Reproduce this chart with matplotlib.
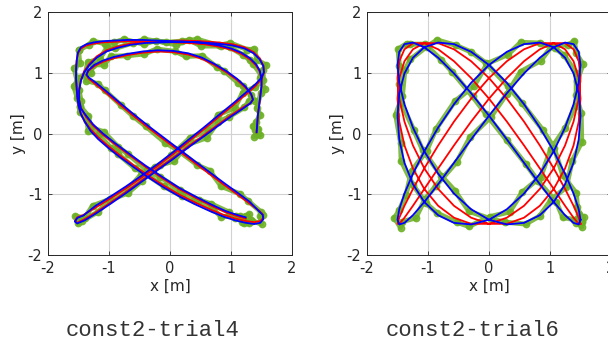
import matplotlib
matplotlib.use("Agg")
import matplotlib.pyplot as plt

plt.rcParams['axes.unicode_minus'] = False

# ---- const2-trial4 (left) ----
# red = reference, blue = estimate (same x samples), green = measurements
xl = [1.42, 1.43, 1.44, 1.46, 1.48, 1.50, 1.50, 1.47, 1.41, 1.31, 1.17, 1.00, 0.80, 0.55, 0.30, 0.05,
      -0.20, -0.45, -0.70, -0.92, -1.10, -1.25, -1.37, -1.46, -1.51, -1.53, -1.54, -1.54, -1.53, -1.52,
      -1.50, -1.46, -1.40,
      -1.30, -1.18, -1.02, -0.82, -0.60, -0.36, -0.10, 0.16, 0.42, 0.66, 0.88, 1.07, 1.24, 1.38, 1.48,
      1.53, 1.52, 1.46,
      1.30, 1.10, 0.88, 0.64, 0.40, 0.15, -0.10, -0.35, -0.60, -0.84, -1.05, -1.22, -1.33, -1.37,
      -1.34, -1.24, -1.10, -0.92, -0.70, -0.45, -0.20, 0.05, 0.30, 0.52, 0.72, 0.92, 1.10, 1.24, 1.33,
      1.36, 1.32,
      1.18, 1.00, 0.78, 0.55, 0.30, 0.05, -0.20, -0.46, -0.72, -0.98, -1.22, -1.40, -1.52, -1.56, -1.52,
      -1.42,
      -1.22, -0.98, -0.72, -0.46, -0.20, 0.06, 0.32, 0.58, 0.82, 1.04, 1.24, 1.40, 1.50, 1.54,
      1.53, 1.47, 1.37, 1.22, 1.02, 0.78, 0.50, 0.20, -0.10, -0.40, -0.65, -0.86, -1.04, -1.20, -1.32,
      -1.41, -1.46, -1.49, -1.49, -1.46,
      -1.38, -1.26, -1.10, -0.90, -0.66, -0.40, -0.12, 0.16, 0.44, 0.70, 0.92, 1.10, 1.24]
yl_ref = [0.02, 0.15, 0.30, 0.45, 0.62, 0.78, 0.90, 1.02, 1.12, 1.22, 1.31, 1.38, 1.43, 1.47, 1.49, 1.50,
          1.51, 1.52, 1.52, 1.51, 1.50, 1.48, 1.45, 1.40, 1.32, 1.20, 1.05, 0.90, 0.75, 0.60, 0.46, 0.32,
          0.20,
          0.07, -0.06, -0.20, -0.36, -0.52, -0.69, -0.86, -1.01, -1.14, -1.25, -1.34, -1.40, -1.44, -1.46,
          -1.44, -1.39, -1.33, -1.27,
          -1.15, -1.00, -0.84, -0.66, -0.48, -0.29, -0.10, 0.09, 0.29, 0.49, 0.67, 0.81, 0.90, 0.96,
          1.03, 1.11, 1.18, 1.24, 1.29, 1.33, 1.35, 1.34, 1.30, 1.23, 1.13, 1.01, 0.88, 0.75, 0.64, 0.56,
          0.50,
          0.42, 0.30, 0.14, -0.03, -0.21, -0.40, -0.58, -0.77, -0.96, -1.14, -1.30, -1.41, -1.47, -1.44,
          -1.38, -1.34,
          -1.22, -1.07, -0.90, -0.72, -0.53, -0.33, -0.12, 0.09, 0.29, 0.47, 0.64, 0.78, 0.90, 1.00,
          1.12, 1.24, 1.34, 1.42, 1.47, 1.50, 1.52, 1.53, 1.52, 1.51, 1.48, 1.43, 1.37, 1.27, 1.15, 1.02,
          0.88, 0.72, 0.56, 0.42,
          0.28, 0.13, -0.02, -0.18, -0.36, -0.55, -0.74, -0.92, -1.07, -1.20, -1.30, -1.36, -1.40]
yl_est = [0.02, 0.15, 0.30, 0.45, 0.62, 0.78, 0.91, 1.04, 1.14, 1.24, 1.33, 1.40, 1.45, 1.49, 1.51, 1.52,
          1.53, 1.54, 1.54, 1.53, 1.52, 1.50, 1.47, 1.42, 1.33, 1.20, 1.05, 0.90, 0.75, 0.60, 0.46, 0.32,
          0.20,
          0.04, -0.09, -0.23, -0.39, -0.55, -0.72, -0.89, -1.04, -1.17, -1.28, -1.37, -1.43, -1.47, -1.49,
          -1.47, -1.41, -1.34, -1.28,
          -1.12, -0.97, -0.81, -0.63, -0.45, -0.26, -0.07, 0.12, 0.32, 0.52, 0.70, 0.84, 0.92, 0.97,
          1.04, 1.13, 1.20, 1.26, 1.31, 1.35, 1.37, 1.36, 1.32, 1.25, 1.15, 1.03, 0.90, 0.77, 0.65, 0.56,
          0.50,
          0.40, 0.28, 0.12, -0.05, -0.23, -0.42, -0.60, -0.79, -0.98, -1.16, -1.32, -1.43, -1.48, -1.45,
          -1.39, -1.35,
          -1.19, -1.04, -0.87, -0.69, -0.50, -0.30, -0.09, 0.12, 0.32, 0.50, 0.67, 0.81, 0.92, 1.01,
          1.11, 1.22, 1.32, 1.40, 1.45, 1.48, 1.50, 1.51, 1.50, 1.49, 1.46, 1.41, 1.35, 1.25, 1.13, 1.00,
          0.87, 0.71, 0.55, 0.41,
          0.30, 0.15, 0.00, -0.16, -0.34, -0.53, -0.72, -0.90, -1.05, -1.18, -1.28, -1.34, -1.38]
xl_meas = [1.40, 1.36, 1.48, 1.38, 1.45,
           1.45, 1.41, 1.48, 1.42, 1.49, 1.55, 1.47, 1.49, 1.36, 1.31, 1.20, 0.98, 0.84, 0.51, 0.31, 0.10,
           -0.23, -0.43, -0.75, -0.92, -1.07, -1.27, -1.33, -1.50, -1.50, -1.48, -1.57, -1.52, -1.58,
           -1.52, -1.47, -1.48, -1.36,
           -1.34, -1.17, -0.97, -0.85, -0.58, -0.41, -0.10, 0.19, 0.40, 0.70, 0.84, 1.08, 1.29, 1.35,
           1.50, 1.48, 1.52, 1.49,
           1.28, 1.14, 0.84, 0.65, 0.45, 0.12, -0.08, -0.40, -0.60, -0.81, -1.07, -1.18, -1.37, -1.36,
           -1.29, -1.27, -1.08, -0.97, -0.70, -0.42, -0.22, 0.09, 0.26, 0.53, 0.77, 0.89, 1.12, 1.19,
           1.33, 1.39, 1.30,
           1.22, 0.96, 0.79, 0.60, 0.27, 0.07, -0.25, -0.46, -0.69, -1.00, -1.18, -1.44, -1.51, -1.51,
           -1.55, -1.40,
           -1.27, -0.98, -0.69, -0.48, -0.16, 0.02, 0.33, 0.63, 0.79, 1.06, 1.19, 1.40, 1.53, 1.52,
           1.57, 1.43, 1.38, 1.27, 0.99, 0.80, 0.45, 0.20, -0.07, -0.42, -0.61, -0.90, -1.03, -1.15,
           -1.35, -1.39, -1.51, -1.49, -1.46, -1.48,
           -1.34, -1.30, -1.09, -0.85, -0.69, -0.38, -0.17, 0.16, 0.47, 0.68, 0.96, 1.06, 1.25,
           1.18, 1.30, 1.22, 1.33, 1.15, 1.27]
yl_meas = [0.05, 0.12, -0.02, -0.05, 0.08,
           0.00, 0.19, 0.31, 0.42, 0.67, 0.74, 0.92, 0.97, 1.15, 1.21, 1.29, 1.42, 1.44, 1.44, 1.54, 1.46,
           1.53, 1.47, 1.55, 1.50, 1.48, 1.52, 1.46, 1.37, 1.37, 1.16, 1.07, 0.85, 0.78, 0.59, 0.44,
           0.36, 0.21,
           0.04, -0.01, -0.24, -0.34, -0.57, -0.66, -0.87, -1.03, -1.10, -1.24, -1.37, -1.35, -1.48,
           -1.44, -1.49, -1.36, -1.34, -1.29,
           -1.11, -0.99, -0.87, -0.61, -0.52, -0.27, -0.15, 0.12, 0.28, 0.47, 0.71, 0.82, 0.87, 1.01,
           0.99, 1.13, 1.13, 1.27, 1.28, 1.31, 1.39, 1.35, 1.27, 1.28, 1.09, 1.03, 0.83, 0.78, 0.63,
           0.54, 0.54,
           0.43, 0.27, 0.19, -0.07, -0.19, -0.45, -0.55, -0.78, -0.98, -1.10, -1.29, -1.44, -1.42,
           -1.48, -1.36, -1.39,
           -1.19, -1.08, -0.92, -0.68, -0.52, -0.36, -0.07, 0.05, 0.31, 0.42, 0.67, 0.77, 0.88, 1.04,
           1.13, 1.21, 1.39, 1.38, 1.49, 1.45, 1.55, 1.52, 1.50, 1.55, 1.49, 1.40, 1.42, 1.23, 1.17,
           0.97, 0.91, 0.71, 0.54, 0.46,
           0.29, 0.10, 0.03, -0.22, -0.34, -0.60, -0.71, -0.93, -1.09, -1.16, -1.29, -1.39, -1.35,
           -1.45, -1.33, -1.47, -1.42, -1.36, -1.44]

# ---- const2-trial6 (right) ----
xr = [1.5, 1.471, 1.386, 1.247, 1.061, 0.833, 0.574, 0.293, 0.0, -0.293, -0.574, -0.833, -1.061,
      -1.247, -1.386, -1.471, -1.5, -1.471, -1.386, -1.247, -1.061, -0.833, -0.574, -0.293, 0.0,
      0.293, 0.574, 0.833, 1.061, 1.247, 1.386, 1.471, 1.5,
      1.471, 1.386, 1.247, 1.061, 0.833, 0.574, 0.293, 0.0, -0.293, -0.574, -0.833, -1.061,
      -1.247, -1.386, -1.471, -1.5, -1.471, -1.386, -1.247, -1.061, -0.833, -0.574, -0.293, 0.0,
      0.293, 0.574, 0.833, 1.061, 1.247, 1.386, 1.471, 1.5,
      1.471, 1.386, 1.247, 1.061, 0.833, 0.574, 0.293, 0.0, -0.293, -0.574, -0.833, -1.061,
      -1.247, -1.386, -1.471, -1.5, -1.471, -1.386, -1.247, -1.061, -0.833, -0.574, -0.293, 0.0,
      0.293, 0.574, 0.833, 1.061, 1.247, 1.386, 1.471, 1.5]
yr_ref = [-1.487, -1.386, -1.190, -0.913, -0.574, -0.196, 0.196, 0.574, 0.913, 1.190, 1.386, 1.487,
          1.487, 1.386, 1.190, 0.913, 0.574, 0.196, -0.196, -0.574, -0.913, -1.190, -1.386, -1.487,
          -1.487, -1.386, -1.190, -0.913, -0.574, -0.196, 0.196, 0.574, 0.913, 1.190, 1.386, 1.487,
          1.487, 1.386, 1.190, 0.913, 0.574, 0.196, -0.196, -0.574, -0.913, -1.190, -1.386, -1.487,
          -1.487, -1.386, -1.190, -0.913, -0.574, -0.196, 0.196, 0.574, 0.913, 1.190, 1.386, 1.487,
          1.487, 1.386, 1.190, 0.913, 0.574, 0.196, -0.196, -0.574, -0.913, -1.190, -1.386, -1.487,
          -1.487, -1.386, -1.190, -0.913, -0.574, -0.196, 0.196, 0.574, 0.913, 1.190, 1.386, 1.487,
          1.487, 1.386, 1.190, 0.913, 0.574, 0.196, -0.196, -0.574, -0.913, -1.190, -1.386, -1.487,
          -1.487]
yr_est = [-1.420, -1.247, -0.989, -0.663, -0.293, 0.098, 0.482, 0.834, 1.128, 1.345, 1.471, 1.497,
          1.420, 1.247, 0.989, 0.663, 0.293, -0.098, -0.482, -0.834, -1.128, -1.345, -1.471, -1.497,
          -1.420, -1.247, -0.989, -0.663, -0.293, 0.098, 0.482, 0.834, 1.128, 1.345, 1.471, 1.497,
          1.420, 1.247, 0.989, 0.663, 0.293, -0.098, -0.482, -0.834, -1.128, -1.345, -1.471, -1.497,
          -1.420, -1.247, -0.989, -0.663, -0.293, 0.098, 0.482, 0.834, 1.128, 1.345, 1.471, 1.497,
          1.420, 1.247, 0.989, 0.663, 0.293, -0.098, -0.482, -0.834, -1.128, -1.345, -1.471, -1.497,
          -1.420, -1.247, -0.989, -0.663, -0.293, 0.098, 0.482, 0.834, 1.128, 1.345, 1.471, 1.497,
          1.420, 1.247, 0.989, 0.663, 0.293, -0.098, -0.482, -0.834, -1.128, -1.345, -1.471, -1.497,
          -1.420]
xr_meas = [1.45, 1.52, 1.48, 1.42, 1.55,
           1.53, 1.45, 1.43, 1.21, 1.07, 0.88, 0.54, 0.31, -0.05, -0.29, -0.54, -0.85, -1.02, -1.29,
           -1.38, -1.42, -1.53, -1.45, -1.44, -1.25, -1.03, -0.85, -0.53, -0.33, 0.01, 0.34, 0.54, 0.85,
           1.01, 1.25, 1.42, 1.45, 1.54, 1.43, 1.40, 1.30, 1.03, 0.85, 0.52, 0.29, 0.03, -0.31, -0.53,
           -0.87, -1.05, -1.20, -1.42, -1.45, -1.55, -1.47, -1.36, -1.27, -1.02, -0.87, -0.56, -0.24,
           -0.03, 0.31, 0.52, 0.83, 1.09, 1.23, 1.43, 1.43, 1.51, 1.52, 1.36, 1.27, 1.01, 0.83, 0.60,
           0.27, 0.04, -0.33, -0.56, -0.78, -1.09, -1.23, -1.44, -1.47, -1.47, -1.49, -1.35, -1.29,
           -1.05, -0.78, -0.60, -0.27, -0.05, 0.29, 0.60, 0.81, 1.10, 1.21, 1.40, 1.52, 1.47]
yr_meas = [-1.40, -1.45, -1.33, -1.47, -1.38,
           -1.44, -1.21, -0.98, -0.69, -0.24, 0.06, 0.50, 0.78, 1.16, 1.34, 1.45, 1.54, 1.43, 1.22,
           1.04, 0.62, 0.31, -0.15, -0.45, -0.84, -1.15, -1.31, -1.46, -1.53, -1.37, -1.29, -0.97,
           -0.71, -0.26, 0.09, 0.46, 0.87, 1.14, 1.32, 1.52, 1.46, 1.44, 1.20, 1.02, 0.65, 0.27, -0.06,
           -0.47, -0.86, -1.08, -1.39, -1.45, -1.55, -1.39, -1.26, -1.01, -0.62, -0.28, 0.07, 0.53,
           0.79, 1.15, 1.30, 1.50, 1.49, 1.40, 1.29, 1.00, 0.63, 0.34, -0.14, -0.46, -0.88, -1.10,
           -1.36, -1.49, -1.46, -1.41, -1.28, -0.94, -0.70, -0.27, 0.05, 0.51, 0.82, 1.11, 1.39, 1.48,
           1.47, 1.47, 1.21, 1.01, 0.61, 0.32, -0.11, -0.50, -0.79, -1.12, -1.38, -1.42, -1.54, -1.40]

ticks = [-2, -1, 0, 1, 2]
captions = ['const2-trial4', 'const2-trial6']

fig = plt.figure(figsize=(6.08, 3.5), dpi=100)
ax1 = fig.add_axes([48 / 608, 95 / 350, 244 / 608, 243 / 350])
ax2 = fig.add_axes([367 / 608, 95 / 350, 244 / 608, 243 / 350])

panels = [(ax1, xl_meas, yl_meas, xl, yl_ref, yl_est),
          (ax2, xr_meas, yr_meas, xr, yr_ref, yr_est)]
for ax, gx, gy, px, pref, pest in panels:
    ax.plot(gx, gy, '-o', color='#6cb024', lw=3.6, ms=4.6, mec='#6cb024', alpha=0.85, zorder=2)
    ax.plot(px, pref, '-', color='#ff0000', lw=1.3, zorder=3)
    ax.plot(px, pest, '-', color='#0000ff', lw=1.3, zorder=4)
    ax.set_xlim(-2, 2)
    ax.set_ylim(-2, 2)
    ax.set_xticks(ticks)
    ax.set_yticks(ticks)
    ax.grid(True, color='#d2d2d2', lw=0.8)
    ax.set_axisbelow(True)
    ax.tick_params(direction='in', length=3, width=0.6, top=True, right=True,
                   labelsize=10.5, colors='#262626', pad=4)
    for s in ax.spines.values():
        s.set_linewidth(0.7)
        s.set_color('#262626')
    ax.set_xlabel('x [m]', fontsize=11, color='#262626', labelpad=2)
    ax.set_ylabel('y [m]', fontsize=11, color='#262626', labelpad=1)

fig.text(153 / 608, 1 - 331 / 350, captions[0], family='Liberation Mono', fontsize=16,
         color='#333333', ha='center', va='center')
fig.text(473 / 608, 1 - 331 / 350, captions[1], family='Liberation Mono', fontsize=16,
         color='#333333', ha='center', va='center')

fig.savefig('out.png', dpi=100)
